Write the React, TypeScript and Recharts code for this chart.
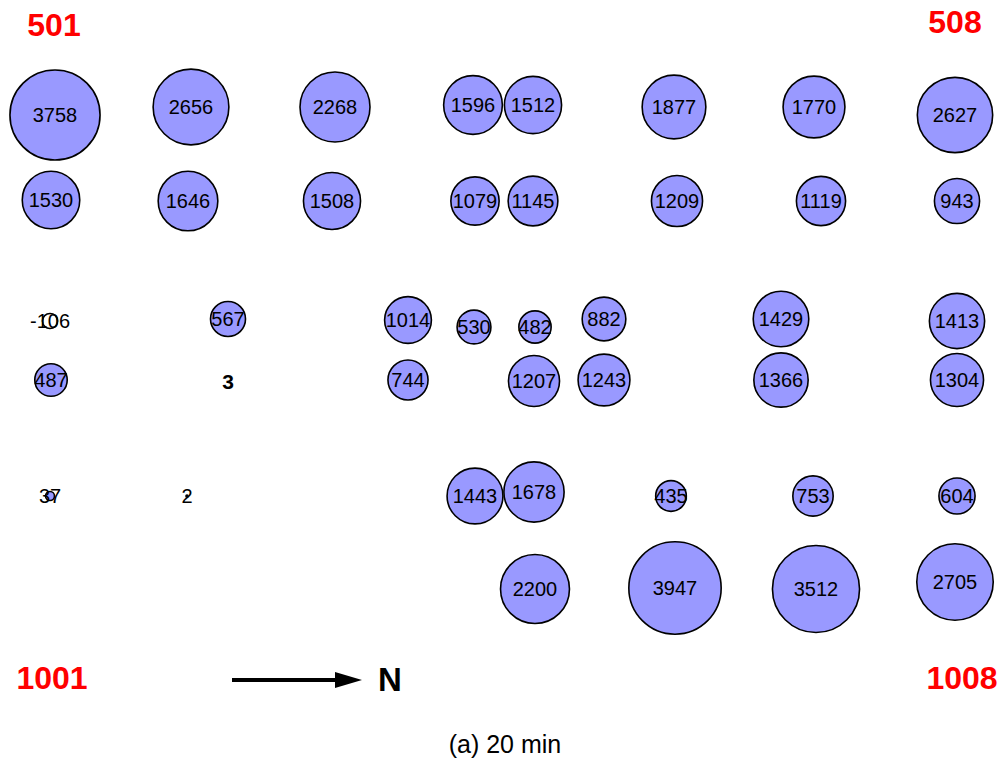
import { ScatterChart, Scatter, XAxis, YAxis, ReferenceLine } from 'recharts';

// detector positions on the grid and 20-min counts
const xs = [
  55, 191, 335, 473, 533, 674, 814, 955,
  51, 188, 332, 475, 533, 677, 821, 957,
  50, 228, 408, 474, 535, 604, 781, 957,
  51, 228, 408, 534, 604, 781, 957,
  50, 187, 475, 534, 671, 813, 957,
  535, 675, 816, 955,
];
const ys = [
  115, 107, 107, 105, 105, 107, 107, 115,
  200, 201, 201, 201, 201, 201, 201, 201,
  321, 319, 320, 327, 327, 319, 319, 321,
  380, 381, 380, 381, 380, 380, 380,
  496, 496, 496, 492, 496, 496, 496,
  589, 588, 589, 582,
];
const counts = [
  3758, 2656, 2268, 1596, 1512, 1877, 1770, 2627,
  1530, 1646, 1508, 1079, 1145, 1209, 1119, 943,
  -106, 567, 1014, 530, 482, 882, 1429, 1413,
  487, 3, 744, 1207, 1243, 1366, 1304,
  37, 2, 1443, 1678, 435, 753, 604,
  2200, 3947, 3512, 2705,
];
const boldLabels = [3];

const cornerNames = ['501', '508', '1001', '1008'];
const cornerX = [54, 955, 52, 962];
const cornerY = [25, 22, 678, 678];

const data = counts.map((v, i) => ({ x: xs[i], y: ys[i], v }));
const corners = cornerNames.map((name, i) => ({ x: cornerX[i], y: cornerY[i], name }));

const W = 1001;
const H = 759;
const FONT = "'Liberation Sans', Arial, sans-serif";

const radius = (v: number) => 0.735 * Math.sqrt(Math.abs(v));

function Bubble(props: any) {
  const { cx, cy, payload } = props;
  const v = payload.v;
  const bold = boldLabels.includes(v);
  const r = radius(v);
  return (
    <g>
      {!bold && (
        <circle
          cx={cx}
          cy={cy}
          r={r}
          fill={v < 0 ? 'none' : '#9999ff'}
          stroke="#000"
          strokeWidth={1.6}
        />
      )}
      <text
        x={cx}
        y={cy}
        textAnchor="middle"
        dominantBaseline="central"
        fontSize={bold ? 21 : 20}
        fontWeight={bold ? 'bold' : 'normal'}
        fontFamily={FONT}
        fill="#000"
      >
        {v}
      </text>
    </g>
  );
}

function Corner(props: any) {
  const { cx, cy, payload } = props;
  return (
    <text
      x={cx}
      y={cy}
      textAnchor="middle"
      dominantBaseline="central"
      fontSize={32}
      fontWeight="bold"
      fontFamily={FONT}
      fill="#ff0000"
    >
      {payload.name}
    </text>
  );
}

export default function App() {
  return (
    <div style={{ position: 'absolute', left: 0, top: 0, width: W, height: H, background: '#fff' }}>
      <ScatterChart width={W} height={H} margin={{ top: 0, right: 0, bottom: 0, left: 0 }}>
        <XAxis type="number" dataKey="x" domain={[0, W]} hide />
        <YAxis type="number" dataKey="y" domain={[0, H]} reversed hide />
        <ReferenceLine
          segment={[{ x: 232, y: 680 }, { x: 340, y: 680 }]}
          stroke="#000"
          strokeWidth={4}
        />
        <Scatter data={corners} shape={Corner} isAnimationActive={false} />
        <Scatter data={data} shape={Bubble} isAnimationActive={false} />
      </ScatterChart>
      <svg
        width={W}
        height={H}
        style={{ position: 'absolute', left: 0, top: 0, pointerEvents: 'none' }}
      >
        <polygon points="335,672 362,680 335,688" fill="#000" />
        <text
          x={390}
          y={679}
          textAnchor="middle"
          dominantBaseline="central"
          fontSize={33}
          fontWeight="bold"
          fontFamily={FONT}
        >
          N
        </text>
        <text
          x={505}
          y={744}
          textAnchor="middle"
          dominantBaseline="central"
          fontSize={25}
          fontFamily={FONT}
        >
          (a) 20 min
        </text>
      </svg>
    </div>
  );
}
